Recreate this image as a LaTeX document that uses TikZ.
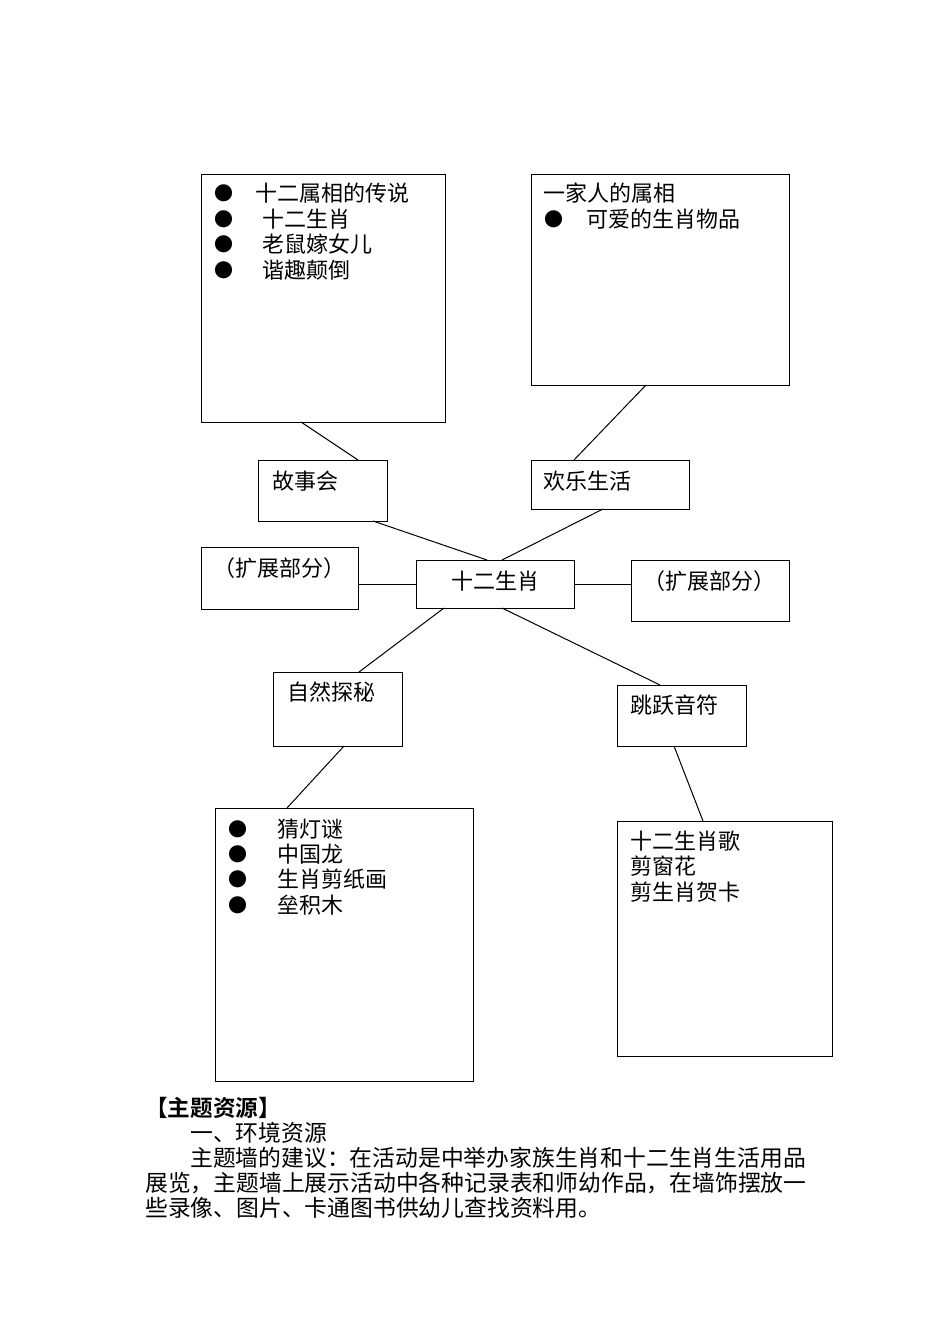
\documentclass[tikz,border=0pt]{standalone}
\usepackage{fontspec}
\setmainfont{Noto Sans CJK SC}
\newfontfamily\cjkb{Noto Sans CJK SC Bold}
\begin{document}
\begin{tikzpicture}[x=1pt,y=-1pt,
  box/.style={draw,line width=1pt},
  t/.style={anchor=west,inner sep=0pt,font=\fontsize{22}{22}\selectfont},
  b/.style={anchor=center,inner sep=0pt,font=\fontsize{19}{19}\selectfont},
  p/.style={anchor=west,inner sep=0pt,font=\fontsize{22.8}{22.8}\selectfont},
  ln/.style={line width=1pt}]
\path[use as bounding box] (0,0) rectangle (950,1344);
\draw[box] (201,174) rectangle (445,422);
\draw[box] (531,174) rectangle (789,385);
\draw[box] (258,460) rectangle (387,521);
\draw[box] (531,460) rectangle (689,509);
\draw[box] (201,547) rectangle (358,609);
\draw[box] (416,560) rectangle (574,608);
\draw[box] (631,560) rectangle (789,621);
\draw[box] (273,672) rectangle (402,746);
\draw[box] (617,685) rectangle (746,746);
\draw[box] (215,808) rectangle (473,1081);
\draw[box] (617,821) rectangle (832,1056);
% connectors
\coordinate (a1) at (301,422); \coordinate (c1) at (358,460);
\coordinate (b1) at (646,385); \coordinate (d1) at (574,460);
\coordinate (c2) at (373,521); \coordinate (f1) at (487,560);
\coordinate (d2) at (603,509); \coordinate (f2) at (502,560);
\coordinate (e1) at (358,584); \coordinate (f3) at (416,584);
\coordinate (f4) at (574,584); \coordinate (g1) at (631,584);
\coordinate (f5) at (444,608); \coordinate (h1) at (359,672);
\coordinate (f6) at (502,608); \coordinate (i1) at (660,685);
\coordinate (h2) at (344,746); \coordinate (j1) at (287,808);
\coordinate (i2) at (674,746); \coordinate (k1) at (703,821);
\draw[ln] (a1)--(c1); \draw[ln] (b1)--(d1); \draw[ln] (c2)--(f1);
\draw[ln] (d2)--(f2); \draw[ln] (e1)--(f3); \draw[ln] (f4)--(g1);
\draw[ln] (f5)--(h1); \draw[ln] (f6)--(i1); \draw[ln] (h2)--(j1);
\draw[ln] (i2)--(k1);
% box A
\node[b] (ab1) at (224,193) {●}; \node[t] (at1) at (255,193) {十二属相的传说};
\node[b] (ab2) at (224,219) {●}; \node[t] (at2) at (262,219) {十二生肖};
\node[b] (ab3) at (224,244) {●}; \node[t] (at3) at (262,244) {老鼠嫁女儿};
\node[b] (ab4) at (224,270) {●}; \node[t] (at4) at (262,270) {谐趣颠倒};
% box B
\node[t] (bt1) at (543,193) {一家人的属相};
\node[b] (bb2) at (554,219) {●}; \node[t] (bt2) at (586,219) {可爱的生肖物品};
\node[t] (ct) at (272,481) {故事会};
\node[t] (dt) at (543,481) {欢乐生活};
\node[t] (et) at (213,568) {（扩展部分）};
\node[t] (ft) at (451,581) {十二生肖};
\node[t] (gt) at (643,581) {（扩展部分）};
\node[t] (ht) at (287,692) {自然探秘};
\node[t] (it) at (630,705) {跳跃音符};
% box J
\node[b] (jb1) at (238,829) {●}; \node[t] (jt1) at (277,829) {猜灯谜};
\node[b] (jb2) at (238,854) {●}; \node[t] (jt2) at (277,854) {中国龙};
\node[b] (jb3) at (238,879) {●}; \node[t] (jt3) at (277,879) {生肖剪纸画};
\node[b] (jb4) at (238,905) {●}; \node[t] (jt4) at (277,905) {垒积木};
% box K
\node[t] (kt1) at (630,841) {十二生肖歌};
\node[t] (kt2) at (630,866) {剪窗花};
\node[t] (kt3) at (630,892) {剪生肖贺卡};
% bottom text
\node[t,font=\cjkb\fontsize{22.6}{22.6}\selectfont] (p0) at (145,1108) {【主题资源】};
\node[p] (p1) at (190,1133) {一、环境资源};
\node[p] (p2) at (190,1158) {主题墙的建议：在活动是中举办家族生肖和十二生肖生活用品};
\node[p] (p3) at (145,1183) {展览，主题墙上展示活动中各种记录表和师幼作品，在墙饰摆放一};
\node[p] (p4) at (145,1208) {些录像、图片、卡通图书供幼儿查找资料用。};
\end{tikzpicture}
\end{document}
